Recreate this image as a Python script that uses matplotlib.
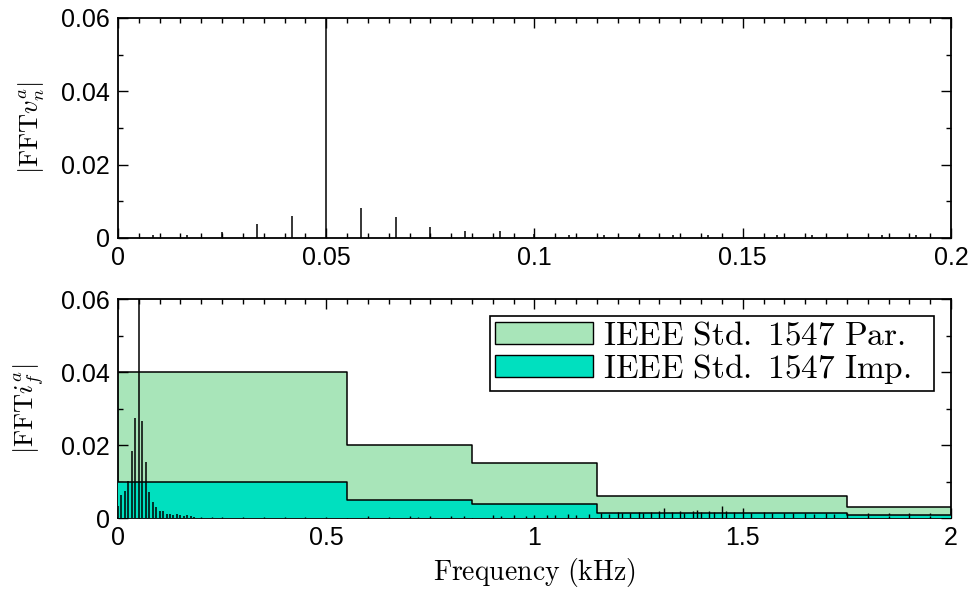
import matplotlib
matplotlib.use("Agg")
import matplotlib.pyplot as plt
from matplotlib.patches import Patch
from matplotlib.offsetbox import DrawingArea

plt.rcParams['font.family'] = ['Liberation Sans', 'DejaVu Sans']
plt.rcParams['mathtext.fontset'] = 'cm'

# ---------------- data ----------------
# top panel: voltage spectrum (kHz, magnitude)
top_freq = [0.00833, 0.01667, 0.025, 0.03333, 0.04167, 0.05, 0.05833, 0.06667,
            0.075, 0.08333, 0.09167, 0.1, 0.10833, 0.11667, 0.125, 0.13333,
            0.14167, 0.15833, 0.16667, 0.18333, 0.19167]
top_vals = [0.0008, 0.0008, 0.0016, 0.0038, 0.0060, 0.0700, 0.0083, 0.0057,
            0.0030, 0.0020, 0.0020, 0.0010, 0.0008, 0.0008, 0.0008, 0.0008,
            0.0008, 0.0008, 0.0008, 0.0008, 0.0008]

# bottom panel: current spectrum (kHz, magnitude) - low-frequency cluster
bot_freq_low = [0.0, 0.00833, 0.01667, 0.025, 0.03333, 0.04167, 0.05, 0.05833,
                0.06667, 0.075, 0.08333, 0.09167, 0.1, 0.10833, 0.11667, 0.125,
                0.13333, 0.14167, 0.15, 0.15833, 0.16667, 0.175, 0.18333]
bot_vals_low = [0.0032, 0.0064, 0.0075, 0.0102, 0.0184, 0.0274, 0.0700, 0.0267,
                0.0153, 0.0071, 0.0043, 0.0030, 0.0020, 0.0018, 0.0011, 0.0011,
                0.0008, 0.0011, 0.0009, 0.0006, 0.0008, 0.0005, 0.0004]
# bottom panel: higher-frequency components
bot_freq_high = [0.2, 0.225, 0.25, 0.3, 0.35, 0.4, 0.45, 0.5, 0.6, 0.65, 0.7,
                 0.72, 0.75, 0.8, 0.83, 0.9, 0.92, 0.95, 0.98, 1.0, 1.03, 1.05,
                 1.08, 1.1, 1.13, 1.16, 1.18, 1.2, 1.21, 1.23, 1.25, 1.26, 1.28,
                 1.3, 1.31, 1.33, 1.35, 1.36, 1.38, 1.39, 1.4, 1.42, 1.43, 1.45,
                 1.46, 1.48, 1.5, 1.52, 1.55, 1.57, 1.6, 1.62, 1.65, 1.67, 1.7,
                 1.72, 1.75, 1.8, 1.85, 1.9, 1.95]
bot_vals_high = [0.0004, 0.0003, 0.0004, 0.0004, 0.0003, 0.0004, 0.0004, 0.0004,
                 0.0005, 0.0004, 0.0005, 0.0004, 0.0005, 0.0006, 0.0005, 0.0007,
                 0.0006, 0.0008, 0.0006, 0.0009, 0.0007, 0.0009, 0.0010, 0.0008,
                 0.0010, 0.0014, 0.0012, 0.0016, 0.0013, 0.0015, 0.0017, 0.0014,
                 0.0016, 0.0019, 0.0027, 0.0016, 0.0020, 0.0015, 0.0018, 0.0022,
                 0.0017, 0.0020, 0.0016, 0.0034, 0.0018, 0.0016, 0.0017, 0.0013,
                 0.0016, 0.0014, 0.0015, 0.0013, 0.0014, 0.0012, 0.0013, 0.0011,
                 0.0010, 0.0007, 0.0006, 0.0007, 0.0006]

# IEEE Std. 1547 limits (step edges in kHz)
lim_edges = [0.0, 0.55, 0.85, 1.15, 1.75, 2.0]
par_limits = [0.04, 0.02, 0.015, 0.006, 0.003]
imp_limits = [0.01, 0.005, 0.00375, 0.0015, 0.00075]

top_xticks = [0, 0.05, 0.1, 0.15, 0.2]
top_xlabels = ['0', '0.05', '0.1', '0.15', '0.2']
bot_xticks = [0, 0.5, 1, 1.5, 2]
bot_xlabels = ['0', '0.5', '1', '1.5', '2']
yticks = [0, 0.02, 0.04, 0.06]
ylabels = ['0', '0.02', '0.04', '0.06']

par_color = '#a8e5b9'
imp_color = '#00e0bf'

# ---------------- figure ----------------
fig = plt.figure(figsize=(9.74, 5.99), dpi=100)
ax1 = fig.add_axes([0.1211, 0.6027, 0.8553, 0.3673])
ax2 = fig.add_axes([0.1211, 0.1352, 0.8553, 0.3656])

def style(ax, xminor, xmax):
    ax.set_ylim(0, 0.06)
    ax.set_xlim(0, xmax)
    ax.set_yticks(yticks)
    ax.set_yticklabels(ylabels)
    ax.set_yticks([0.01, 0.03, 0.05], minor=True)
    ax.set_xticks([v * xminor for v in range(int(round(xmax / xminor)) + 1)], minor=True)
    ax.tick_params(which='both', direction='in', top=True, right=True,
                   labelsize=18, width=1.0, pad=6)
    ax.tick_params(which='major', length=7)
    ax.tick_params(which='minor', length=3.5)
    for s in ax.spines.values():
        s.set_linewidth(1.3)

# top
ax1.vlines(top_freq, 0, top_vals, color='black', lw=1.1)
style(ax1, 0.005, 0.2)
ax1.set_xticks(top_xticks)
ax1.set_xticklabels(top_xlabels)
ax1.set_ylabel(r'$|\mathrm{FFT}v_n^a|$', fontsize=19, labelpad=10)

# bottom
def steps(edges, vals):
    xs, ys = [], []
    for i, v in enumerate(vals):
        xs += [edges[i], edges[i + 1]]
        ys += [v, v]
    return xs, ys

px, py = steps(lim_edges, par_limits)
ix, iy = steps(lim_edges, imp_limits)
ax2.fill_between(px, 0, py, facecolor=par_color, edgecolor='none', zorder=1)
ax2.plot(px, py, color='black', lw=1.1, zorder=2)
ax2.fill_between(ix, 0, iy, facecolor=imp_color, edgecolor='none', zorder=3)
ax2.plot(ix, iy, color='black', lw=1.1, zorder=4)
ax2.vlines(bot_freq_low, 0, bot_vals_low, color='black', lw=1.1, zorder=5)
ax2.vlines(bot_freq_high, 0, bot_vals_high, color='black', lw=1.0, zorder=5)
style(ax2, 0.05, 2.0)
ax2.set_xticks(bot_xticks)
ax2.set_xticklabels(bot_xlabels)
ax2.set_ylabel(r'$|\mathrm{FFT}i_f^a|$', fontsize=19, labelpad=10)
ax2.set_xlabel(r'$\mathrm{Frequency\ (kHz)}$', fontsize=20, labelpad=4)

handles = [Patch(facecolor=par_color, edgecolor='black', lw=1.0),
           Patch(facecolor=imp_color, edgecolor='black', lw=1.0)]
leg = ax2.legend(handles, [r'$\mathrm{IEEE\ Std.\ 1547\ Par.}$',
                           r'$\mathrm{IEEE\ Std.\ 1547\ Imp.}$'],
                 loc='upper right', fontsize=24, frameon=True, fancybox=False,
                 edgecolor='black', framealpha=1, handlelength=2.95,
                 handleheight=0.65, handletextpad=0.3, borderpad=0.15,
                 labelspacing=0.0, borderaxespad=0.5)
leg.get_frame().set_linewidth(1.2)
leg.set_zorder(10)
# extra right padding after the legend text
try:
    for col in leg._legend_handle_box.get_children():
        for item in col.get_children():
            item.get_children().append(DrawingArea(6, 1))
except Exception:
    pass

fig.savefig('out.png', dpi=100)
